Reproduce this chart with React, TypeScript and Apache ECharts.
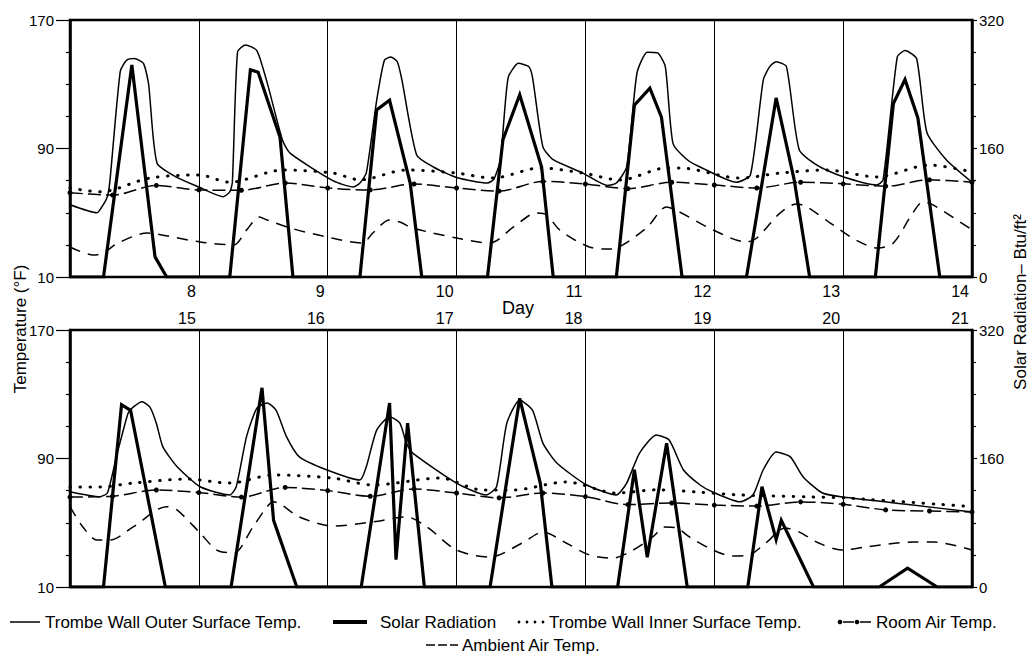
import React, { useEffect, useRef } from "react";
import * as echarts from "echarts";

const FONT = '"Liberation Sans", Arial, Helvetica, sans-serif';

// Axis ranges and tick steps
const TOP_DAYS = [7, 14];
const BOTTOM_DAYS = [14, 21];
const TEMP_RANGE = [10, 170];
const TEMP_STEP = 80;
const SOLAR_RANGE = [0, 320];
const SOLAR_STEP = 160;

// ---- Top panel (days 7-14) ----
const outerTop = [
  [7.0, 55], [7.21, 50], [7.25, 54], [7.29, 60], [7.31, 70], [7.39, 138], [7.44, 145], [7.5, 146],
  [7.57, 143], [7.61, 130], [7.675, 81], [7.83, 72], [8.0, 66], [8.19, 60], [8.24, 63], [8.26, 69],
  [8.3, 150], [8.36, 154.5], [8.45, 151], [8.53, 131], [8.65, 95], [8.71, 87], [9.04, 70], [9.2, 66],
  [9.25, 68.5], [9.3, 75], [9.38, 120], [9.44, 145], [9.49, 147], [9.54, 144], [9.575, 133], [9.69, 86],
  [9.82, 78.5], [10.0, 72], [10.24, 68.5], [10.29, 71], [10.34, 83], [10.4, 134], [10.48, 143], [10.56, 141],
  [10.59, 134], [10.67, 91], [10.75, 83], [10.98, 74.7], [11.17, 67], [11.24, 68.5], [11.32, 78.5], [11.4, 137],
  [11.48, 150], [11.56, 149.5], [11.62, 141], [11.68, 93], [11.79, 83], [11.89, 78.5], [12.17, 69], [12.28, 73.5],
  [12.38, 132.6], [12.43, 141], [12.48, 144], [12.56, 141], [12.66, 89], [12.82, 78.5], [13.03, 71.6], [13.26, 67.3],
  [13.31, 70.4], [13.42, 147], [13.48, 151], [13.57, 146], [13.65, 100], [13.8, 83], [14.0, 69],
];
const solarTop = [
  [7, 0], [7.26, 0], [7.48, 264], [7.66, 25], [7.75, 0], [8.24, 0], [8.4, 258], [8.46, 255], [8.63, 174],
  [8.73, 0], [9.25, 0], [9.38, 208], [9.48, 220], [9.64, 117], [9.73, 0], [10.24, 0], [10.36, 171],
  [10.49, 227], [10.66, 137], [10.75, 0], [11.24, 0], [11.38, 214], [11.5, 235], [11.59, 199], [11.75, 0],
  [12.25, 0], [12.48, 223], [12.62, 121], [12.74, 0], [13.25, 0], [13.39, 216], [13.48, 246], [13.58, 198],
  [13.75, 0], [14, 0],
];
const innerTop = [
  [7.0, 65.5], [7.23, 63], [7.62, 71.6], [8.0, 73.5], [8.24, 69], [8.65, 76.6], [9.04, 74.7], [9.25, 70.5],
  [9.61, 76.6], [10.0, 74.7], [10.28, 71.6], [10.65, 77.9], [10.98, 74.7], [11.27, 70.4], [11.63, 77.9],
  [11.73, 77.9], [12.2, 71.6], [12.51, 74.7], [12.87, 76.6], [13.26, 72.3], [13.67, 79.7], [14.0, 75.4],
];
const roomTop = [
  [7.0, 62.5], [7.33, 61], [7.67, 67], [8.0, 64.2], [8.33, 64], [8.67, 68.5], [9.0, 65.4], [9.33, 64.2],
  [9.67, 67.9], [10.0, 65.4], [10.33, 63.5], [10.67, 69.5], [11.0, 67.9], [11.33, 65], [11.67, 69],
  [12.0, 67.3], [12.33, 65.4], [12.67, 69], [13.0, 68], [13.33, 66.5], [13.67, 70.5], [14.0, 69],
];
const ambientTop = [
  [7.0, 28.7], [7.18, 23.7], [7.26, 25], [7.37, 31], [7.6, 37.4], [7.67, 36.8], [8.01, 31.8], [8.27, 30],
  [8.37, 39.3], [8.47, 47.3], [8.53, 45.5], [8.71, 40.5], [8.99, 35], [9.27, 31.2], [9.35, 37.4], [9.48, 45.5],
  [9.56, 44.2], [9.66, 40.5], [10.0, 34.3], [10.26, 31.2], [10.44, 41], [10.62, 49.8], [10.7, 48.6], [10.8, 39.3],
  [11.03, 28.7], [11.19, 27.4], [11.29, 30], [11.48, 41], [11.63, 53.6], [11.73, 50.5], [11.99, 39.3],
  [12.25, 31.8], [12.33, 34.3], [12.51, 49.8], [12.64, 55.5], [12.72, 53.6], [12.9, 43.6], [13.1, 33],
  [13.27, 28], [13.39, 31.2], [13.54, 49.8], [13.62, 56.7], [13.7, 54.8], [14.0, 39.3],
];

// ---- Bottom panel (days 14-21) ----
const outerBottom = [
  [14.0, 69.3], [14.23, 66.2], [14.29, 68.5], [14.36, 91], [14.45, 118], [14.49, 122], [14.56, 125.4],
  [14.62, 122], [14.67, 112], [14.72, 97.4], [14.83, 85], [15.01, 72.4], [15.24, 67.3], [15.29, 72.4],
  [15.37, 103.6], [15.45, 121.4], [15.53, 124.6], [15.6, 120], [15.68, 103.6], [15.78, 91], [15.99, 83],
  [16.25, 76.6], [16.3, 85], [16.38, 107.7], [16.48, 116], [16.56, 112], [16.61, 99.6], [16.66, 93.4],
  [17.0, 74.7], [17.23, 67.3], [17.31, 72.4], [17.39, 112], [17.49, 126.4], [17.59, 120], [17.67, 99.6],
  [17.78, 87], [18.01, 73.5], [18.24, 67.3], [18.32, 74.7], [18.42, 93.4], [18.55, 104.6], [18.65, 101.5],
  [18.76, 83], [18.89, 73.5], [18.99, 69], [19.2, 63], [19.3, 67.3], [19.38, 83], [19.48, 94], [19.59, 91],
  [19.69, 78.5], [19.84, 68.5], [20.0, 66], [20.54, 61], [21.0, 56.7],
];
const solarBottom = [
  [14, 0], [14.26, 0], [14.4, 227], [14.47, 220], [14.74, 0], [15.25, 0], [15.49, 248], [15.58, 83],
  [15.76, 0], [16.26, 0], [16.48, 229], [16.53, 34], [16.62, 204], [16.75, 0], [17.26, 0], [17.49, 235],
  [17.65, 129], [17.74, 0], [18.25, 0], [18.38, 146], [18.48, 37], [18.63, 179], [18.79, 0], [19.26, 0],
  [19.37, 125], [19.48, 59], [19.52, 83], [19.77, 0], [20.28, 0], [20.5, 23.5], [20.73, 0], [21, 0],
];
const innerBottom = [
  [14.0, 72.3], [14.23, 72.3], [14.49, 74.7], [14.91, 77.2], [15.24, 74.7], [15.58, 79.7], [16.04, 77.8],
  [16.35, 73.5], [16.87, 77.8], [17.2, 70.4], [17.44, 70.4], [17.85, 75.4], [18.24, 68.5], [18.55, 70.5],
  [18.89, 69], [19.2, 67.3], [19.76, 66], [20.03, 65.4], [21.0, 60],
];
const roomBottom = [
  [14.0, 66], [14.33, 66.5], [14.67, 70.4], [15.0, 68.8], [15.33, 66], [15.67, 72], [16.0, 70],
  [16.33, 66.5], [16.67, 71], [17.0, 68.5], [17.33, 65.5], [17.67, 68.5], [18.0, 66.3], [18.33, 61.3],
  [18.67, 62.3], [19.0, 61], [19.33, 60.4], [19.67, 63], [20.0, 61.5], [20.33, 58], [20.67, 57.3], [21.0, 56.7],
];
const ambientBottom = [
  [14.0, 60], [14.1, 47.4], [14.21, 39.3], [14.31, 39.3], [14.49, 47.4], [14.75, 60], [14.83, 58],
  [15.01, 43.6], [15.14, 33], [15.27, 31.2], [15.42, 47.4], [15.53, 60], [15.58, 63], [15.78, 53.6],
  [16.04, 48], [16.35, 50.5], [16.61, 53.6], [16.77, 47.4], [17.0, 33], [17.26, 28.7], [17.51, 37.4],
  [17.67, 44.2], [17.85, 37.4], [18.03, 30], [18.21, 28], [18.37, 33], [18.52, 41], [18.62, 47.4],
  [18.71, 46.7], [18.81, 41], [18.99, 33], [19.14, 29.3], [19.27, 30], [19.4, 37.4], [19.55, 46.7],
  [19.66, 44.2], [19.81, 37.4], [19.99, 33], [20.18, 35], [20.54, 38], [20.7, 38], [21.0, 33],
];

const LEGEND_LABELS = [
  "Trombe Wall Outer Surface Temp.",
  "Solar Radiation",
  "Trombe Wall Inner Surface Temp.",
  "Room Air Temp.",
  "Ambient Air Temp.",
];
const AXIS_NAMES = ["Temperature (°F)", "Solar Radiation\u2013 Btu/ft\u00B2", "Day"];

const BLACK = "#000";

function xAxisFor(gridIndex: number, range: number[], position: string, margin: number) {
  return {
    gridIndex,
    type: "value",
    min: range[0],
    max: range[1],
    interval: 1,
    position,
    axisLine: { show: false, onZero: false },
    axisTick: { show: false },
    axisLabel: {
      formatter: (v: number) => (v === range[0] ? "" : String(v)),
      align: "right",
      padding: [0, 3, 0, 0],
      margin,
      color: BLACK,
      fontSize: 16,
      fontFamily: FONT,
    },
    splitLine: { show: true, lineStyle: { color: BLACK, width: 1 } },
  };
}

function yAxisFor(gridIndex: number, range: number[], step: number, position: string, tickLen: number, margin: number) {
  return {
    gridIndex,
    type: "value",
    min: range[0],
    max: range[1],
    interval: step,
    position,
    axisLine: { show: true, onZero: false, lineStyle: { color: BLACK, width: 2.5 } },
    axisTick: { show: true, length: tickLen, lineStyle: { color: BLACK, width: 1.2 } },
    minorTick: { show: true, splitNumber: 4, length: 4, lineStyle: { color: BLACK, width: 1.2 } },
    axisLabel: { margin, color: BLACK, fontSize: 15, fontFamily: FONT },
    splitLine: { show: false },
  };
}

function panelSeries(xi: number, yT: number, yS: number, outer: number[][], solar: number[][], inner: number[][], room: number[][], amb: number[][]) {
  return [
    {
      name: LEGEND_LABELS[4], type: "line", xAxisIndex: xi, yAxisIndex: yT, data: amb, showSymbol: false,
      smooth: 0.3, lineStyle: { color: BLACK, width: 1.5, type: [11, 8] },
    },
    {
      name: LEGEND_LABELS[3], type: "line", xAxisIndex: xi, yAxisIndex: yT, data: room,
      symbol: "circle", symbolSize: 5, showSymbol: true, itemStyle: { color: BLACK },
      smooth: 0.3, lineStyle: { color: BLACK, width: 1.5, type: [13, 5] },
    },
    {
      name: LEGEND_LABELS[2], type: "line", xAxisIndex: xi, yAxisIndex: yT, data: inner, showSymbol: false,
      smooth: 0.3, lineStyle: { color: BLACK, width: 3, type: [0.5, 9.5], cap: "round" },
    },
    {
      name: LEGEND_LABELS[0], type: "line", xAxisIndex: xi, yAxisIndex: yT, data: outer, showSymbol: false,
      smooth: 0.2, lineStyle: { color: BLACK, width: 1.5 },
    },
    {
      name: LEGEND_LABELS[1], type: "line", xAxisIndex: xi, yAxisIndex: yS, data: solar, showSymbol: false,
      lineStyle: { color: BLACK, width: 3.2, join: "miter" },
    },
  ];
}

function txt(x: number, y: number, text: string, size: number, align = "left", rotation = 0) {
  return {
    type: "text",
    x,
    y,
    rotation,
    silent: true,
    style: {
      text,
      fill: BLACK,
      font: `${size}px ${FONT}`,
      align,
      verticalAlign: "middle",
      textAlign: align,
      textVerticalAlign: "middle",
    },
  };
}

function seg(x1: number, x2: number, y: number, w: number, dash?: number[]) {
  return {
    type: "line",
    silent: true,
    shape: { x1, y1: y, x2, y2: y },
    style: { stroke: BLACK, lineWidth: w, lineDash: dash },
  };
}

function dot(x: number, y: number, r: number) {
  return { type: "circle", silent: true, shape: { cx: x, cy: y, r }, style: { fill: BLACK } };
}

export default function App() {
  const ref = useRef<HTMLDivElement>(null);

  useEffect(() => {
    document.body.style.margin = "0";
    if (!ref.current) return;
    const chart = echarts.init(ref.current, undefined, { renderer: "svg" });
    const L1 = 622;
    const L2 = 645;
    const option = {
      animation: false,
      backgroundColor: "#fff",
      textStyle: { fontFamily: FONT },
      grid: [
        { left: 70, right: 63, top: 20, height: 257, show: true, borderColor: BLACK, borderWidth: 2.5, backgroundColor: "transparent" },
        { left: 70, right: 63, top: 330, height: 257, show: true, borderColor: BLACK, borderWidth: 2.5, backgroundColor: "transparent" },
      ],
      xAxis: [xAxisFor(0, TOP_DAYS, "bottom", 6), xAxisFor(1, BOTTOM_DAYS, "top", 4)],
      yAxis: [
        yAxisFor(0, TEMP_RANGE, TEMP_STEP, "left", 14, 16),
        yAxisFor(0, SOLAR_RANGE, SOLAR_STEP, "right", 5, 7),
        yAxisFor(1, TEMP_RANGE, TEMP_STEP, "left", 14, 16),
        yAxisFor(1, SOLAR_RANGE, SOLAR_STEP, "right", 5, 7),
      ],
      series: [
        ...panelSeries(0, 0, 1, outerTop, solarTop, innerTop, roomTop, ambientTop),
        ...panelSeries(1, 2, 3, outerBottom, solarBottom, innerBottom, roomBottom, ambientBottom),
      ],
      graphic: [
        txt(20, 329, AXIS_NAMES[0], 17, "center", Math.PI / 2),
        txt(1020, 302, AXIS_NAMES[1], 17, "center", Math.PI / 2),
        txt(518, 308, AXIS_NAMES[2], 18, "center"),
        // legend row 1
        seg(10, 40, L1, 1.5),
        txt(45, L1, LEGEND_LABELS[0], 17),
        seg(333, 367, L1, 4),
        txt(380, L1, LEGEND_LABELS[1], 17),
        dot(519, L1, 1.4), dot(527, L1, 1.4), dot(535, L1, 1.4), dot(543, L1, 1.4),
        txt(549, L1, LEGEND_LABELS[2], 17),
        dot(840, L1, 2.3), seg(843, 854, L1, 1.5), dot(857, L1, 2.3), seg(860, 871, L1, 1.5),
        txt(876, L1, LEGEND_LABELS[3], 17),
        // legend row 2
        seg(426, 458, L2, 1.5, [9, 3]),
        txt(462, L2, LEGEND_LABELS[4], 17),
      ],
    };
    chart.setOption(option as any);
    return () => chart.dispose();
  }, []);

  return (
    <div
      ref={ref}
      style={{ position: "absolute", left: 0, top: 0, width: 1035, height: 658, background: "#fff" }}
    />
  );
}
